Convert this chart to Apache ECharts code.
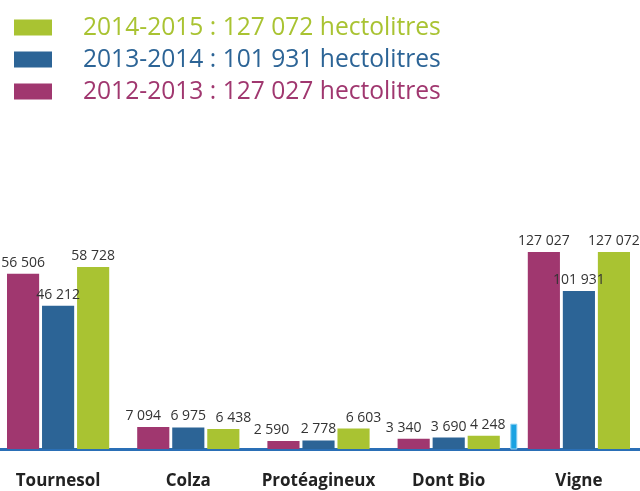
<!DOCTYPE html>
<html>
<head>
<meta charset="utf-8">
<script src="https://cdn.jsdelivr.net/npm/echarts@6/dist/echarts.min.js"></script>
<style>
  html, body { margin: 0; padding: 0; background: #fff; overflow: hidden; }
  #chart { position: relative; left: -7px; width: 651px; height: 491px; }
</style>
</head>
<body>
<div id="chart"></div>
<script>
const categories = ['Tournesol', 'Colza', 'Protéagineux', 'Dont Bio', 'Vigne']
const seasons = ['2012-2013', '2013-2014', '2014-2015']
const totals = ['127 027', '101 931', '127 072']
const colors = ['#a0376f', '#2c6496', '#a9c332']

// oléagineux (échelle principale) : Tournesol, Colza, Protéagineux, Dont Bio
const crops2012 = [56506, 7094, 2590, 3340]
const crops2013 = [46212, 6975, 2778, 3690]
const crops2014 = [58728, 6438, 6603, 4248]
// vigne sur un axe secondaire
const vigne = [127027, 101931, 127072]

const separatorValue = 8000

// décalage horizontal des étiquettes pour éviter les chevauchements
const labelShift = [
  [0, -10, -12, -10],
  [0, 0, 0, 0],
  [0, 10, 10, 4],
]

const cropValues = [crops2012, crops2013, crops2014]
const fmt = v => String(v).replace(/\B(?=(\d{3})+(?!\d))/g, ' ')
const legendName = i => `${seasons[i]} : ${totals[i]} hectolitres`

const label = {
  show: true,
  position: 'top',
  distance: 4,
  color: '#333',
  fontSize: 14,
  fontFamily: 'Open Sans',
  formatter: p => fmt(p.value),
}

const series = []
seasons.forEach((s, i) => {
  series.push({
    name: legendName(i),
    type: 'bar',
    xAxisIndex: 0,
    yAxisIndex: 0,
    data: [
      ...cropValues[i].map((v, j) => ({ value: v, label: { offset: [labelShift[i][j], 0] } })),
      '-',
    ],
    itemStyle: { color: colors[i] },
    barGap: '9%',
    barCategoryGap: '21.5%',
    label,
  })
})
seasons.forEach((s, i) => {
  series.push({
    name: legendName(i),
    type: 'bar',
    xAxisIndex: 1,
    yAxisIndex: 1,
    data: ['-', '-', '-', '-', vigne[i]],
    itemStyle: { color: colors[i] },
    barGap: '9%',
    barCategoryGap: '21.5%',
    label,
  })
})

const chart = echarts.init(document.getElementById('chart'))
chart.setOption({
  animation: false,
  legend: {
    orient: 'vertical',
    left: 16,
    top: 10,
    itemWidth: 38,
    itemHeight: 16,
    itemGap: 7,
    icon: 'rect',
    selectedMode: false,
    data: [2, 1, 0].map(i => ({
      name: legendName(i),
      textStyle: { color: colors[i] },
    })),
    textStyle: {
      fontFamily: 'Open Sans',
      fontSize: 24.6,
      padding: [0, 0, 0, 26],
    },
  },
  grid: { left: 0, right: 0, top: 232, bottom: 42 },
  xAxis: [
    {
      type: 'category',
      data: categories,
      axisLine: { lineStyle: { color: '#2a6fb6', width: 3 } },
      axisTick: { show: false },
      axisLabel: {
        interval: 0,
        color: '#222',
        fontFamily: 'Open Sans',
        fontWeight: 'bold',
        fontSize: 17,
        margin: 24,
      },
    },
    {
      type: 'category',
      data: categories,
      show: false,
    },
  ],
  yAxis: [
    { type: 'value', min: 0, max: 70000, show: false, splitLine: { show: false } },
    { type: 'value', min: 0, max: 140000, show: false, splitLine: { show: false } },
  ],
  series,
})

// petit séparateur entre « Dont Bio » et « Vigne »
const xA = chart.convertToPixel({ xAxisIndex: 0 }, 'Dont Bio')
const xB = chart.convertToPixel({ xAxisIndex: 0 }, 'Vigne')
const y0 = chart.convertToPixel({ yAxisIndex: 0 }, 0)
const y1 = chart.convertToPixel({ yAxisIndex: 0 }, separatorValue)
chart.setOption({
  graphic: [{
    type: 'rect',
    shape: { x: (xA + xB) / 2 - 3, y: y1, width: 6, height: y0 - y1 },
    style: { fill: '#1aa2e2', stroke: '#8fd0f2', lineWidth: 1 },
    z: 10,
  }],
})
</script>
</body>
</html>
